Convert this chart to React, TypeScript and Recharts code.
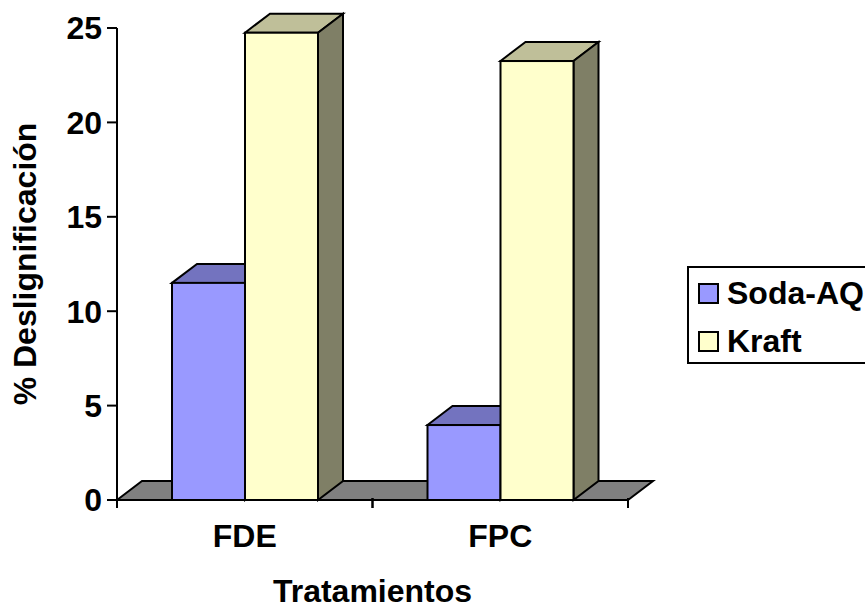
import React from "react";
import { BarChart, Bar, XAxis, YAxis, Legend, ReferenceArea } from "recharts";

const categories = ["FDE", "FPC"];
const sodaValues = [11.5, 3.97];
const kraftValues = [24.75, 23.25];
const yTicks = [0, 5, 10, 15, 20, 25];

const rows = categories.map((name, i) => ({ name, soda: sodaValues[i], kraft: kraftValues[i] }));

const FONT = '"Liberation Sans", Arial, sans-serif';
const FS = 32;
const DX = 25;
const DY = 19;
const SW = 2;
const BAND = 255.5;

function Box3D(props: any) {
  const { x, y, width: w, height: h, fill, topFill, sideFill } = props;
  const common = { stroke: "#000", strokeWidth: SW, strokeLinejoin: "miter" as const };
  return (
    <g>
      <path d={`M${x},${y}L${x + DX},${y - DY}L${x + w + DX},${y - DY}L${x + w},${y}Z`} fill={topFill} {...common} />
      <path d={`M${x + w},${y}L${x + w + DX},${y - DY}L${x + w + DX},${y + h - DY}L${x + w},${y + h}Z`} fill={sideFill} {...common} />
      <rect x={x} y={y} width={w} height={h} fill={fill} {...common} />
    </g>
  );
}

function Floor(props: any) {
  const { x, y, width: w, height: h } = props;
  const b = y + h;
  return (
    <path
      d={`M${x},${b}L${x + DX},${b - DY}L${x + w + DX},${b - DY}L${x + w},${b}Z`}
      fill="#808080"
      stroke="#000"
      strokeWidth={SW}
    />
  );
}

function XTick(props: any) {
  const { x, y, payload } = props;
  return (
    <g>
      <line x1={x - BAND / 2} x2={x - BAND / 2} y1={y - 10} y2={y} stroke="#000" strokeWidth={SW} />
      <line x1={x + BAND / 2} x2={x + BAND / 2} y1={y - 10} y2={y} stroke="#000" strokeWidth={SW} />
      <text x={x} y={y + 39} textAnchor="middle" fontFamily={FONT} fontWeight="bold" fontSize={FS} fill="#000">
        {payload.value}
      </text>
    </g>
  );
}

function LegendBox({ payload }: any) {
  return (
    <div
      style={{
        position: "absolute",
        left: 687,
        top: 266,
        width: 200,
        height: 98,
        boxSizing: "border-box",
        border: "2px solid #000",
        background: "#fff",
        fontFamily: FONT,
        fontWeight: "bold",
        fontSize: FS,
        color: "#000",
      }}
    >
      {(payload || []).map((p: any, i: number) => (
        <div key={p.value} style={{ position: "absolute", left: 9, top: i === 0 ? 7 : 55, height: 36, lineHeight: "36px", whiteSpace: "nowrap" }}>
          <span
            style={{
              position: "absolute",
              left: 0,
              top: 8,
              width: 21,
              height: 21,
              boxSizing: "border-box",
              border: "2px solid #000",
              background: p.color,
            }}
          />
          <span style={{ position: "absolute", left: 29, top: 0 }}>{p.value}</span>
        </div>
      ))}
    </div>
  );
}

export default function App() {
  return (
    <div style={{ position: "absolute", left: 0, top: 0, width: 865, height: 609, overflow: "hidden", background: "#fff" }}>
      <BarChart
        width={865}
        height={609}
        data={rows}
        margin={{ top: 28, right: 237, bottom: 0, left: 0 }}
        barSize={73}
        barGap={0}
        barCategoryGap={0}
      >
        <XAxis
          dataKey="name"
          height={109}
          axisLine={{ stroke: "#000", strokeWidth: SW }}
          tickLine={false}
          tick={<XTick />}
          interval={0}
          label={{ value: "Tratamientos", position: "insideBottom", offset: 7, fontFamily: FONT, fontWeight: "bold", fontSize: FS, fill: "#000" }}
        />
        <YAxis
          width={117}
          domain={[0, 25]}
          ticks={yTicks}
          interval={0}
          axisLine={{ stroke: "#000", strokeWidth: SW }}
          tickLine={{ stroke: "#000", strokeWidth: SW }}
          tickSize={10}
          tickMargin={5}
          tick={{ fontFamily: FONT, fontWeight: "bold", fontSize: FS, fill: "#000" }}
          label={{ value: "% Deslignificación", angle: -90, position: "insideLeft", offset: 0, dx: 25, style: { textAnchor: "middle" }, fontFamily: FONT, fontWeight: "bold", fontSize: FS, fill: "#000" }}
        />
        <ReferenceArea y1={0} y2={1} ifOverflow="visible" shape={<Floor />} />
        <Legend itemSorter={null} layout="horizontal" align="center" verticalAlign="middle" content={<LegendBox />} wrapperStyle={{ position: "absolute", left: 0, top: 0, width: 0, height: 0 }} />
        <Bar dataKey="soda" name="Soda-AQ" fill="#9999FF" isAnimationActive={false} shape={<Box3D topFill="#7373BF" sideFill="#5C5C99" />} />
        <Bar dataKey="kraft" name="Kraft" fill="#FFFFCC" isAnimationActive={false} shape={<Box3D topFill="#BFBF99" sideFill="#7F7F66" />} />
      </BarChart>
    </div>
  );
}
